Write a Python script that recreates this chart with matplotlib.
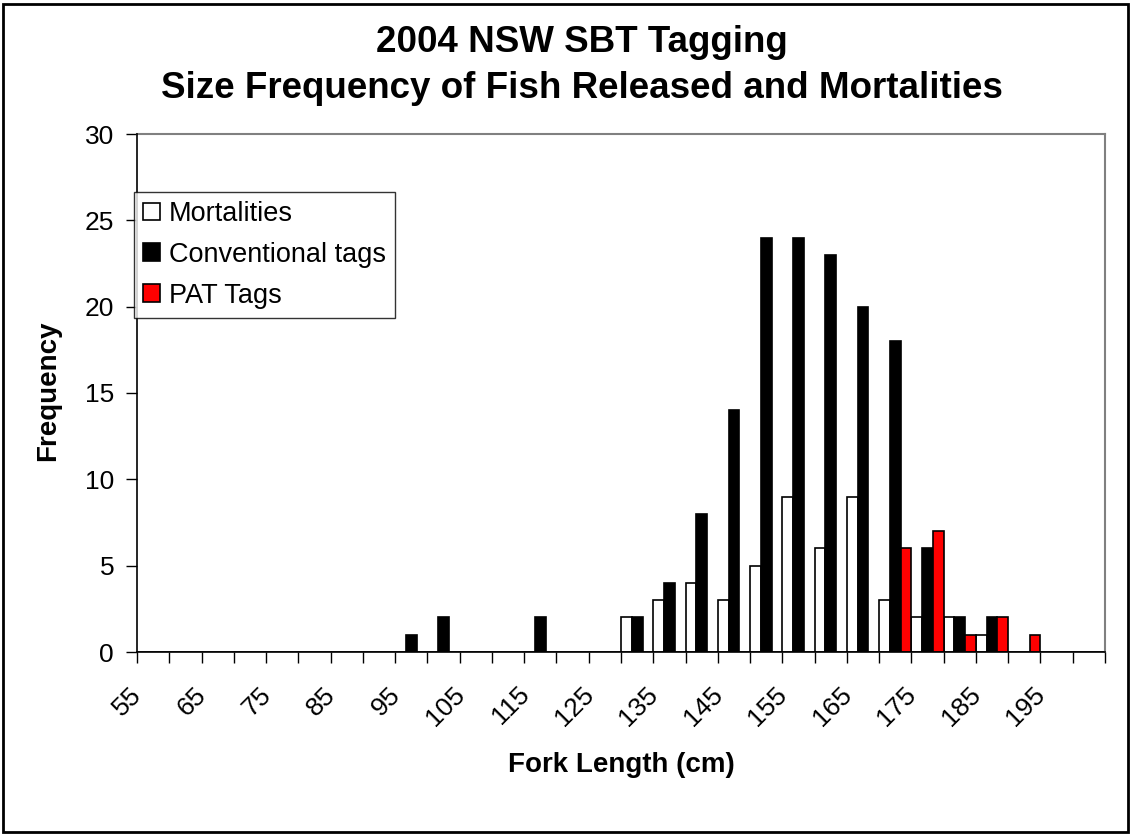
import numpy as np
import matplotlib
matplotlib.use("Agg")
import matplotlib.pyplot as plt
from matplotlib.patches import Rectangle
from matplotlib.transforms import ScaledTranslation

plt.rcParams['font.family'] = ['Liberation Sans', 'DejaVu Sans']

# Data
fork_length = list(range(55, 205, 5))  # 30 size classes (55..200)
mortalities = [0]*15 + [2, 3, 4, 3, 5, 9, 6, 9, 3, 2, 2, 1, 0, 0, 0]
conventional = [0]*8 + [1, 2, 0, 0, 2, 0, 0, 2, 4, 8, 14, 24, 24, 23, 20, 18, 6, 2, 2, 0, 0, 0]
pat_tags = [0]*23 + [6, 7, 1, 2, 1, 0, 0]
tick_labels = [str(v) for v in fork_length[::2]]

W, H = 1130, 834
fig = plt.figure(figsize=(W/100, H/100), dpi=100)
ax = fig.add_axes([137/W, 1-652/H, (1105-137)/W, (652-134)/H])

n = len(fork_length)
idx = np.arange(n)
bw = 1/3
ax.bar(idx + bw*0.5, mortalities, width=bw, color='white', edgecolor='black', linewidth=1.2, label='Mortalities')
ax.bar(idx + bw*1.5, conventional, width=bw, color='black', edgecolor='black', linewidth=1.2, label='Conventional tags')
ax.bar(idx + bw*2.5, pat_tags, width=bw, color='#ff0000', edgecolor='black', linewidth=1.2, label='PAT Tags')

ax.set_xlim(0, n)
ax.set_ylim(0, 30)
ax.set_yticks(range(0, 31, 5))
ax.tick_params(axis='y', direction='out', length=8, width=1, labelsize=19, pad=8.5, color='black')

ax.set_xticks(np.arange(0, n+1), minor=True)
ax.set_xticks(idx[::2] + 0.5)
ax.set_xticklabels(tick_labels, rotation=45, ha='right', va='center', rotation_mode='anchor')
ax.tick_params(axis='x', which='major', length=0, labelsize=19, pad=28)
ax.tick_params(axis='x', which='minor', direction='out', length=8, width=1, color='black')
for lab in ax.get_xticklabels():
    lab.set_transform(lab.get_transform() + ScaledTranslation(-0.15, 0, fig.dpi_scale_trans))

for s in ['left', 'bottom']:
    ax.spines[s].set_color('black')
    ax.spines[s].set_linewidth(1.2)
for s in ['top', 'right']:
    ax.spines[s].set_color('#808080')
    ax.spines[s].set_linewidth(1.5)
ax.spines['left'].set_zorder(5)

ax.set_xlabel('Fork Length (cm)', fontsize=20, fontweight='bold', va='center')
ax.xaxis.set_label_coords(0.5, (652-765)/518)
ax.set_ylabel('Frequency', fontsize=20, fontweight='bold', va='center')
ax.yaxis.set_label_coords((48-137)/968, (652-391)/518)

fig.text(582/W, 1-43/H, '2004 NSW SBT Tagging', ha='center', va='center', fontsize=26.5, fontweight='bold')
fig.text(582/W, 1-88/H, 'Size Frequency of Fish Released and Mortalities', ha='center', va='center', fontsize=26.5, fontweight='bold')

leg = ax.legend(loc='upper left', bbox_to_anchor=(134/W, 1-192/H), bbox_transform=fig.transFigure,
                borderaxespad=0, fancybox=False, frameon=True, fontsize=19.5,
                handlelength=0.63, handleheight=0.63, handletextpad=0.32, labelspacing=0.55,
                borderpad=0.33)
leg.get_frame().set_edgecolor('black')
leg.get_frame().set_linewidth(1.0)
leg.set_zorder(10)

fig.patches.append(Rectangle((2.5/W, 2.5/H), (W-5)/W, (H-6.5)/H, transform=fig.transFigure,
                             fill=False, edgecolor='black', linewidth=2))

fig.savefig('out.png', dpi=100)
